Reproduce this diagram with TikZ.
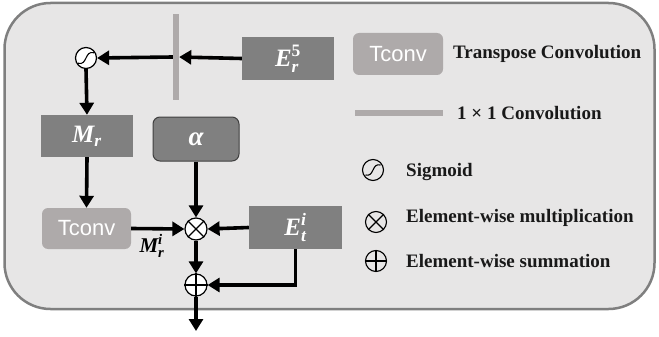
\documentclass[tikz,border=0pt]{standalone}
\usepackage{amsmath}
\usepackage{fontspec}
\setmainfont{Liberation Serif}
\newfontfamily\boxsans{Liberation Sans}
\usetikzlibrary{arrows.meta,calc}
\definecolor{bgfill}{HTML}{E7E6E6}
\definecolor{bgline}{HTML}{7F7F7F}
\definecolor{darkbox}{HTML}{808080}
\definecolor{lightbox}{HTML}{AEAAAA}
\definecolor{alphaline}{HTML}{404040}
\newcommand{\bitx}[1]{\text{\bfseries\itshape #1}}
\newcommand{\bupx}[1]{\text{\bfseries #1}}
\tikzset{
  darkrect/.style={fill=darkbox, draw=none, minimum width=92pt, minimum height=43pt, inner sep=0pt, text=white, font=\fontsize{25}{27}\selectfont},
  alpharect/.style={fill=darkbox, draw=alphaline, line width=1pt, rounded corners=7pt, minimum width=86pt, minimum height=44pt, inner sep=0pt, text=white, font=\fontsize{27}{29}\selectfont},
  tconvrect/.style={fill=lightbox, draw=none, rounded corners=6pt, minimum width=89pt, minimum height=41pt, inner sep=0pt, text=white, font=\boxsans\fontsize{22}{24}\selectfont},
  convbar/.style={fill=lightbox, draw=none, inner sep=0pt},
  opcircle/.style={circle, draw=black, fill=white, line width=1.2pt, minimum size=22pt, inner sep=0pt},
  legcircle/.style={circle, draw=black, line width=1.1pt, minimum size=21pt, inner sep=0pt},
  flow/.style={line width=3.6pt, -{Triangle[length=12pt,width=14pt]}},
  legtext/.style={anchor=base west, inner sep=0pt, font=\bfseries\fontsize{19}{22}\selectfont, text=black!90},
}
\newcommand{\sigcurve}[2]{% center, radius
  \draw[line width=1.1pt] ($#1+(-0.75*#2,-0.5*#2)$) .. controls ($#1+(0.15*#2,-0.75*#2)$) and ($#1+(-0.15*#2,0.75*#2)$) .. ($#1+(0.75*#2,0.5*#2)$);
}
\begin{document}
\begin{tikzpicture}[x=1pt,y=-1pt]
\useasboundingbox (0,0) rectangle (659,337);
% background panel
\node[draw=bgline, fill=bgfill, line width=2.5pt, rounded corners=46pt, minimum width=650pt, minimum height=306pt, inner sep=0pt] (panel) at (329.5,156) {};

% main graph
\node[convbar, minimum width=6pt, minimum height=86pt] (conv) at (176,57) {};
\node[darkrect] (Er) at (288,58.5) {$\bitx{E}^{\bupx{5}}_{\bitx{r}}$};
\node[opcircle, minimum size=21pt] (sig) at (86,58) {};
\sigcurve{(sig)}{10.5pt}
\node[darkrect, minimum height=42pt] (Mr) at (87,136) {$\bitx{M}_{\bitx{r}}$};
\node[alpharect] (alpha) at (196,139) {\bfseries\itshape α};
\node[tconvrect] (tconv) at (86.5,228.5) {Tconv};
\node[opcircle] (mul) at (196,229) {};
\draw[line width=1.2pt] (mul.north west) -- (mul.south east) (mul.north east) -- (mul.south west);
\node[darkrect, minimum width=93pt] (Et) at (295.5,227.5) {$\bitx{E}^{\bitx{i}}_{\bitx{t}}$};
\node[opcircle] (add) at (196,285) {};
\draw[line width=1.2pt] (add.north) -- (add.south) (add.west) -- (add.east);
\coordinate (out) at (196,331);
\node[inner sep=0pt, font=\fontsize{21}{23}\selectfont] (Mri) at (152,246) {$\bitx{M}^{\bitx{i}}_{\bitx{r}}$};

\draw[flow] (Er.west) -- (conv.east);
\draw[flow] (conv.west) -- (sig.east);
\draw[flow] (sig.south) -- (Mr.north);
\draw[flow] (Mr.south) -- (tconv.north);
\draw[flow] (alpha.south) -- (mul.north);
\draw[flow] (tconv.east) -- (mul.west);
\draw[flow] (Et.west) -- (mul.east);
\draw[flow] (mul.south) -- (add.north);
\draw[flow] (Et.south) |- (add.east);
\draw[flow] (add.south) -- (out);

% legend
\node[tconvrect, minimum width=90pt, minimum height=42pt] (legT) at (398,54) {Tconv};
\node[legtext] (legTtext) at (453,59) {Transpose Convolution};
\node[convbar, minimum width=88pt, minimum height=6pt] (legC) at (399,113) {};
\node[legtext] (legCtext) at (457,120) {1 × 1 Convolution};
\node[legcircle] (legS) at (373,170) {};
\sigcurve{(legS)}{10pt}
\node[legtext] (legStext) at (406,176) {Sigmoid};
\node[legcircle] (legM) at (376,222) {};
\draw[line width=1.1pt] (legM.north west) -- (legM.south east) (legM.north east) -- (legM.south west);
\node[legtext] (legMtext) at (406,222) {Element-wise multiplication};
\node[legcircle] (legA) at (376,261) {};
\draw[line width=1.1pt] (legA.north) -- (legA.south) (legA.west) -- (legA.east);
\node[legtext] (legAtext) at (406,267) {Element-wise summation};
\end{tikzpicture}
\end{document}
